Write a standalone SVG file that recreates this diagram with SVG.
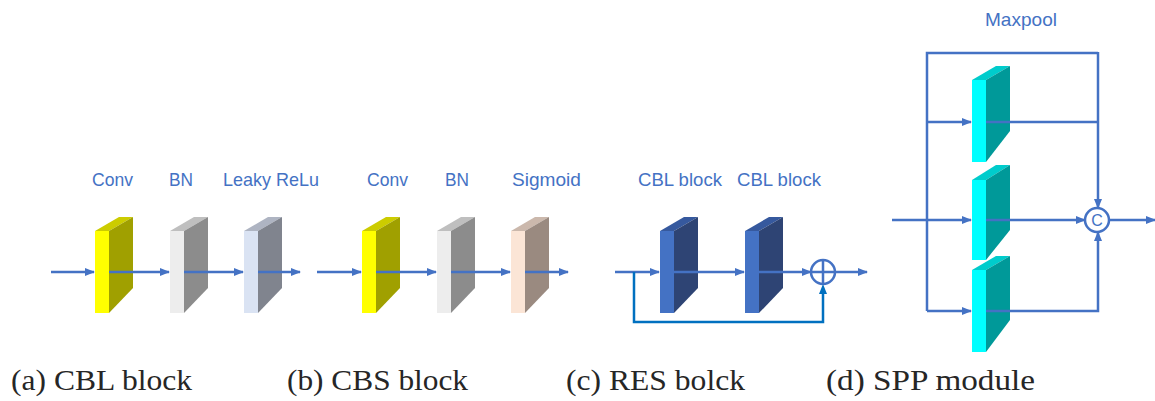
<svg xmlns="http://www.w3.org/2000/svg" width="1155" height="401" viewBox="0 0 1155 401">
<defs>
<marker id="ah" markerWidth="10" markerHeight="8" refX="9" refY="4" orient="auto" markerUnits="userSpaceOnUse">
<path d="M0,0 L10,4 L0,8 Z" fill="#4472C4"/>
</marker>
<style>
.lbl{font-family:"Liberation Sans",Arial,sans-serif;font-size:19px;fill:#4472C4}
.cap{font-family:"Liberation Serif","DejaVu Serif",serif;font-size:30px;fill:#262626}
.ln{fill:none;stroke:#4472C4;stroke-width:2.5}
.arr{fill:none;stroke:#4472C4;stroke-width:2.5;marker-end:url(#ah)}
.skip{fill:none;stroke:#0070C0;stroke-width:2.5}
.circ{fill:#fff;stroke:#4472C4;stroke-width:2.5}
</style>
</defs>
<rect width="1155" height="401" fill="#fff"/>

<!-- (a) CBL -->
<g id="a-conv">
<polygon points="95,231 109,231 133,217 119,217" fill="#CCCC00"/>
<polygon points="109,231 133,217 133,288 109,313" fill="#A0A000"/>
<rect x="95" y="231" width="14" height="82" fill="#FFFF00"/>
<text class="lbl" x="92" y="186" textLength="41" lengthAdjust="spacingAndGlyphs">Conv</text>
</g>
<g id="a-bn">
<polygon points="170,231 184,231 208,217 194,217" fill="#BFBFBF"/>
<polygon points="184,231 208,217 208,288 184,313" fill="#8C8C8C"/>
<rect x="170" y="231" width="14" height="82" fill="#EDEDED"/>
<text class="lbl" x="169" y="186" textLength="24" lengthAdjust="spacingAndGlyphs">BN</text>
</g>
<g id="a-leaky">
<polygon points="244,231 258,231 282,217 268,217" fill="#AEB4C2"/>
<polygon points="258,231 282,217 282,288 258,313" fill="#80848E"/>
<rect x="244" y="231" width="14" height="82" fill="#DAE3F3"/>
<text class="lbl" x="223" y="186" textLength="96" lengthAdjust="spacingAndGlyphs">Leaky ReLu</text>
</g>

<!-- (b) CBS -->
<g id="b-conv">
<polygon points="362,231 376,231 400,217 386,217" fill="#CCCC00"/>
<polygon points="376,231 400,217 400,288 376,313" fill="#A0A000"/>
<rect x="362" y="231" width="14" height="82" fill="#FFFF00"/>
<text class="lbl" x="367" y="186" textLength="41" lengthAdjust="spacingAndGlyphs">Conv</text>
</g>
<g id="b-bn">
<polygon points="437,231 451,231 475,217 461,217" fill="#BFBFBF"/>
<polygon points="451,231 475,217 475,288 451,313" fill="#8C8C8C"/>
<rect x="437" y="231" width="14" height="82" fill="#EDEDED"/>
<text class="lbl" x="445" y="186" textLength="24" lengthAdjust="spacingAndGlyphs">BN</text>
</g>
<g id="b-sigmoid">
<polygon points="511,231 525,231 549,217 535,217" fill="#CBB8AC"/>
<polygon points="525,231 549,217 549,288 525,313" fill="#9A8A80"/>
<rect x="511" y="231" width="14" height="82" fill="#FBE5D6"/>
<text class="lbl" x="512" y="186" textLength="69" lengthAdjust="spacingAndGlyphs">Sigmoid</text>
</g>

<!-- (c) RES -->
<g id="c-cbl1">
<polygon points="660,231 674,231 698,217 684,217" fill="#36599E"/>
<polygon points="674,231 698,217 698,288 674,313" fill="#2E4474"/>
<rect x="660" y="231" width="14" height="82" fill="#4472C4"/>
<text class="lbl" x="638" y="186" textLength="84" lengthAdjust="spacingAndGlyphs">CBL block</text>
</g>
<g id="c-cbl2">
<polygon points="745,231 759,231 783,217 769,217" fill="#36599E"/>
<polygon points="759,231 783,217 783,288 759,313" fill="#2E4474"/>
<rect x="745" y="231" width="14" height="82" fill="#4472C4"/>
<text class="lbl" x="737" y="186" textLength="84" lengthAdjust="spacingAndGlyphs">CBL block</text>
</g>
<g id="c-add">
<circle class="circ" cx="823" cy="272" r="12"/>
<path class="ln" d="M811,272 H835 M823,260 V284"/>
</g>

<!-- (d) SPP -->
<g id="d-pool1">
<polygon points="972,80 986,80 1010,66 996,66" fill="#00CCCC"/>
<polygon points="986,80 1010,66 1010,131 986,162" fill="#009999"/>
<rect x="972" y="80" width="14" height="82" fill="#00FFFF"/>
</g>
<g id="d-pool2">
<polygon points="972,180 986,180 1010,165 996,165" fill="#00CCCC"/>
<polygon points="986,180 1010,165 1010,230 986,260" fill="#009999"/>
<rect x="972" y="180" width="14" height="80" fill="#00FFFF"/>
</g>
<g id="d-pool3">
<polygon points="972,270 986,270 1010,256 996,256" fill="#00CCCC"/>
<polygon points="986,270 1010,256 1010,320 986,352" fill="#009999"/>
<rect x="972" y="270" width="14" height="82" fill="#00FFFF"/>
</g>
<g id="d-maxpool-label">
<text class="lbl" x="985" y="26" textLength="72" lengthAdjust="spacingAndGlyphs">Maxpool</text>
</g>

<!-- connectors -->
<g id="connectors">
<path class="arr" d="M51,272 H94"/>
<path class="arr" d="M109,272 H169"/>
<path class="arr" d="M184,272 H243"/>
<path class="arr" d="M258,272 H300"/>

<path class="arr" d="M317,272 H361"/>
<path class="arr" d="M376,272 H436"/>
<path class="arr" d="M451,272 H510"/>
<path class="arr" d="M525,272 H568"/>

<path class="arr" d="M615,272 H659"/>
<path class="arr" d="M674,272 H744"/>
<path class="arr" d="M759,272 H811"/>
<path class="arr" d="M835,272 H867"/>
<path class="skip" d="M634,272 V322 H823 V293"/>
<path d="M819,294 L823,284 L827,294 Z" fill="#0070C0"/>

<path class="arr" d="M892,220 H971"/>
<path class="ln" d="M927,311 V53 H1098"/>
<path class="arr" d="M1098,52 V208"/>
<path class="arr" d="M927,122 H971"/>
<path class="ln" d="M986,122 H1098"/>
<path class="arr" d="M986,220 H1085"/>
<path class="arr" d="M927,311 H971"/>
<path class="arr" d="M986,311 H1098 V232"/>
<path class="arr" d="M1109,220 H1155"/>
</g>
<g id="d-concat">
<circle class="circ" cx="1097" cy="220" r="12"/>
<text x="1097" y="226" text-anchor="middle" style="font-family:'Liberation Sans',Arial,sans-serif;font-size:16px;fill:#4472C4">C</text>
</g>

<!-- captions -->
<text class="cap" x="11" y="390" textLength="181" lengthAdjust="spacingAndGlyphs">(a) CBL block</text>
<text class="cap" x="287" y="390" textLength="181" lengthAdjust="spacingAndGlyphs">(b) CBS block</text>
<text class="cap" x="566" y="390" textLength="179" lengthAdjust="spacingAndGlyphs">(c) RES bolck</text>
<text class="cap" x="826" y="390" textLength="209" lengthAdjust="spacingAndGlyphs">(d) SPP module</text>
</svg>
